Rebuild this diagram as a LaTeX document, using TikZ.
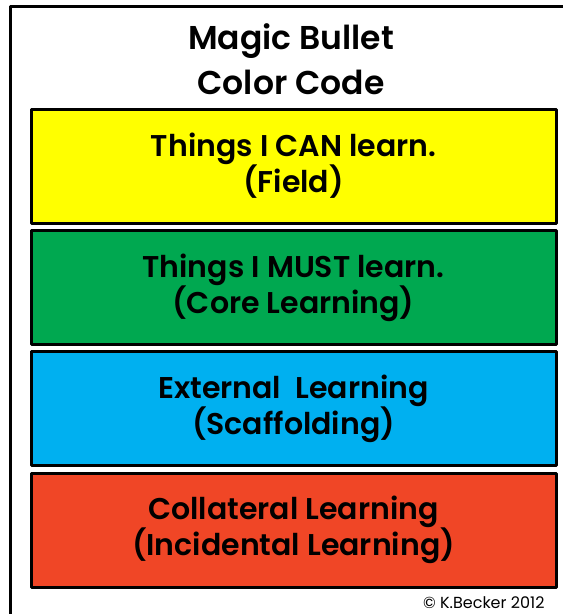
\documentclass[tikz,border=0pt]{standalone}
\usepackage{fontspec}
\setmainfont{Poppins}[UprightFont=* SemiBold]
\definecolor{fieldyellow}{RGB}{255,255,0}
\definecolor{coregreen}{RGB}{0,168,80}
\definecolor{scaffblue}{RGB}{0,176,240}
\definecolor{incired}{RGB}{240,70,38}
\tikzset{
  colourbox/.style={draw=black,line width=3pt,minimum width=525pt,minimum height=114pt,
    inner sep=0pt,align=center,font=\fontsize{30}{36}\selectfont},
}
\begin{document}
\begin{tikzpicture}[line cap=round,line join=round,x=1pt,y=-1pt]
\clip (0,0) rectangle (563,614);
\path
(10.5,6) coordinate (TL)
(700,800) coordinate (BR)
(293.5,166) coordinate (Y)
(293.5,287.5) coordinate (G)
(293.5,408.5) coordinate (B)
(293.5,530) coordinate (R)
;
\draw[line width=3pt,line cap=rect] (TL) rectangle (BR);
\node[align=center,font=\fontsize{33}{45}\selectfont] (title) at (291,59) {Magic Bullet\\Color Code};
\node[colourbox,fill=fieldyellow] (can) at (Y) {Things I CAN learn.\\(Field)};
\node[colourbox,fill=coregreen] (must) at (G) {Things I MUST learn.\\(Core Learning)};
\node[colourbox,fill=scaffblue] (external) at (B) {External\ \ Learning\\(Scaffolding)};
\node[colourbox,fill=incired] (collateral) at (R) {Collateral Learning\\(Incidental Learning)};
\node[font=\fontsize{16}{18}\selectfont\addfontfeatures{UprightFont=* Regular},anchor=base east] (copy) at (548,608) {\textcopyright\ K.Becker 2012};
\end{tikzpicture}
\end{document}
